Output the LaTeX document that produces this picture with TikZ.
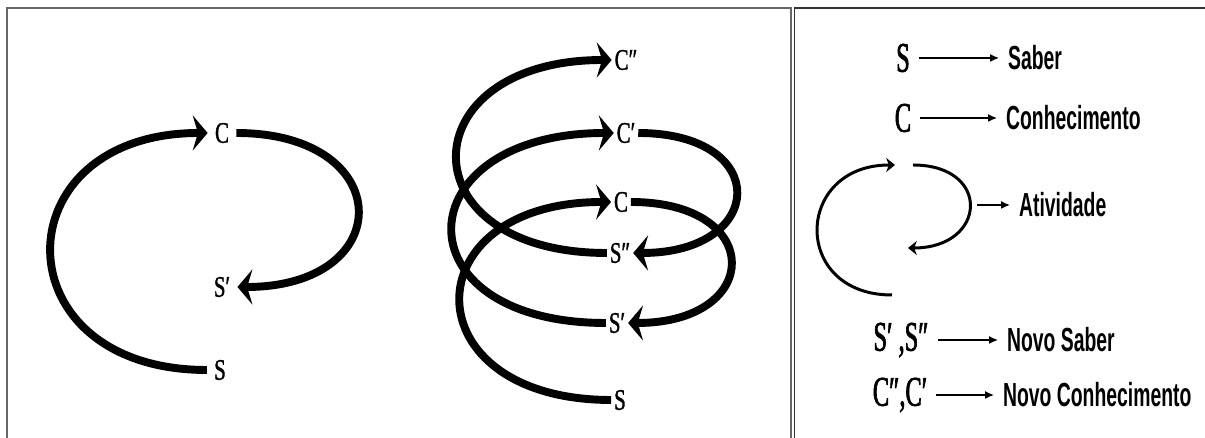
\documentclass[tikz,border=0pt]{standalone}
\usepackage{fontspec}
\usepackage{tikz}
\usetikzlibrary{arrows.meta}
\newfontfamily\lblfont[FakeStretch=0.7,FakeBold=1.2]{Liberation Serif}
\newfontfamily\keyfont[FakeStretch=0.58,FakeBold=1.5]{Liberation Serif}
\newfontfamily\wordfont[FakeStretch=0.58]{Liberation Sans}

\begin{document}
\begin{tikzpicture}[x=0.02cm,y=0.02cm,
  lbl/.style={font=\lblfont\fontsize{17}{20}\selectfont, inner sep=1.5pt},
  lblwide/.style={lbl, inner sep=4pt},
  bigarc/.style={line width=4.5pt, -{Stealth[length=8.5pt,width=20pt,inset=3pt]}},
  keylbl/.style={font=\keyfont\fontsize{24}{28}\selectfont, inner sep=5pt},
  keyword/.style={font=\wordfont\bfseries\fontsize{19}{22}\selectfont, inner sep=5pt, anchor=west},
  keyarrow/.style={line width=0.8pt, -{Latex[length=5pt,width=4.5pt]}},
  actarc/.style={line width=1.7pt, -{Stealth[length=5pt,width=8pt,inset=1.5pt]}},
  frame/.style={draw=black!60, line width=0.7pt}]
\useasboundingbox (0,0) rectangle (1205,438);

\draw[frame] (7,0) -- (7,430) -- (791,430) -- (791,0);
\draw[frame, draw=black!80, line width=0.9pt] (794.5,0) -- (794.5,430) -- (1205,430);

\node[lblwide] (cA) at (222,305) {C};
\node[lblwide] (spA) at (222,151) {S′};
\node[lblwide] (sA) at (220,68) {S};
\draw[bigarc] (sA.west) .. controls +(-208,0) and +(-208,0) .. (cA.west);
\draw[bigarc] (cA.east) .. controls +(161,0) and +(161,0) .. (spA.east);

\node[lbl] (s0) at (620,38) {S};
\node[lbl] (c0) at (621,236) {C};
\node[lbl] (s1) at (617,115) {S′};
\node[lbl] (c1) at (626,305) {C′};
\node[lbl] (s2) at (620,185) {S″};
\node[lbl] (c2) at (626,378) {C″};
\draw[bigarc] (s0.west) .. controls +(-201,0) and +(-201,0) .. (c0.west);
\draw[bigarc] (c0.east) .. controls +(135,0) and +(135,0) .. (s1.east);
\draw[bigarc] (s1.west) .. controls +(-210,0) and +(-210,0) .. (c1.west);
\draw[bigarc] (c1.east) .. controls +(134,0) and +(134,0) .. (s2.east);
\draw[bigarc] (s2.west) .. controls +(-203,0) and +(-203,0) .. (c2.west);

\node[keylbl] (kS) at (903,380) {S};
\node[keyword] (wS) at (999,380) {Saber};
\draw[keyarrow] (kS.east) -- (kS.east -| wS.west);
\node[keylbl] (kC) at (903,320) {C};
\node[keyword] (wC) at (997,320) {Conhecimento};
\draw[keyarrow] (kC.east) -- (kC.east -| wC.west);

\coordinate (aBot) at (892,143);
\coordinate (aTopL) at (895,273);
\coordinate (aTopR) at (913,273);
\coordinate (aEnd) at (908,190);
\coordinate (aSide) at (977,233);
\draw[actarc] (aBot) .. controls +(-101,0) and +(-101,0) .. (aTopL);
\draw[actarc] (aTopR) .. controls +(79,0) and +(79,0) .. (aEnd);
\node[keyword] (wA) at (1010,233) {Atividade};
\draw[keyarrow] (aSide) -- (aSide -| wA.west);

\node[keylbl] (kSS) at (901,98) {S′ ,S″};
\node[keyword] (wSS) at (998,98) {Novo Saber};
\draw[keyarrow] (kSS.east) -- (kSS.east -| wSS.west);
\node[keylbl] (kCC) at (900,43) {C″,C′};
\node[keyword] (wCC) at (994,43) {Novo Conhecimento};
\draw[keyarrow] (kCC.east) -- (kCC.east -| wCC.west);
\end{tikzpicture}
\end{document}
